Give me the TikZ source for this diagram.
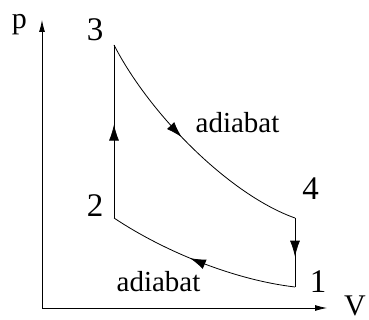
\documentclass[tikz,border=0pt]{standalone}
\usepackage{fontspec}
\setmainfont{Liberation Serif}
\usetikzlibrary{arrows.meta,decorations.markings}

\begin{document}
\begin{tikzpicture}[x=1pt,y=-1pt,line width=0.8pt,
  num/.style={anchor=base,inner sep=0pt,font=\fontsize{33}{33}\selectfont},
  axl/.style={anchor=base,inner sep=0pt,font=\fontsize{30}{30}\selectfont},
  adl/.style={anchor=base,inner sep=0pt,font=\fontsize{29}{29}\selectfont},
  midarr/.style={postaction={decorate},decoration={markings,
    mark=at position #1 with {\arrow{Latex[length=16pt,width=10pt]}}}},
  axarr/.style={-{Latex[length=12pt,width=6pt]}}]
  \useasboundingbox (0,0) rectangle (369,320);
  % axes
  \coordinate (o) at (42,308);
  \coordinate (ptip) at (42,20);
  \coordinate (vtip) at (327,308);
  \draw[axarr] (o)--(ptip);
  \draw[axarr] (o)--(vtip);
  \node[axl] (p) at (19.5,28.5) {p};
  \node[axl] (v) at (355,315) {V};
  % states
  \coordinate (s1) at (295,287);
  \coordinate (s2) at (114,218);
  \coordinate (s3) at (114,45);
  \coordinate (s4) at (295,218);
  \node[num] (n1) at (318,292) {1};
  \node[num] (n2) at (95,217) {2};
  \node[num] (n3) at (95,41) {3};
  \node[num] (n4) at (310.5,200) {4};
  % cycle
  \draw[midarr=0.54] (s2)--(s3);
  \draw[midarr=0.45] (s3) .. controls (150,115) and (230,195) .. (s4);
  \draw[midarr=0.56] (s4)--(s1);
  \draw[midarr=0.56] (s1) .. controls (235,280) and (165,252) .. (s2);
  \node[adl] (a1) at (237.5,133) {adiabat};
  \node[adl] (a2) at (158.5,291) {adiabat};
\end{tikzpicture}
\end{document}
